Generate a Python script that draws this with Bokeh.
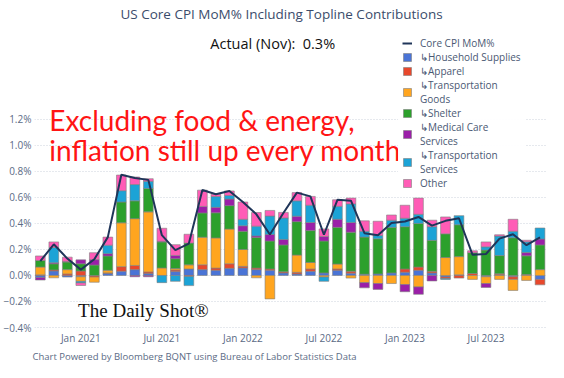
import numpy as np
from bokeh.plotting import figure
from bokeh.models import FixedTicker, Legend, LegendItem, Label, Title, Range1d, ColumnDataSource
from bokeh.embed import file_html
from bokeh.resources import INLINE

months = ["2020-10", "2020-11", "2020-12",
          "2021-01", "2021-02", "2021-03", "2021-04", "2021-05", "2021-06",
          "2021-07", "2021-08", "2021-09", "2021-10", "2021-11", "2021-12",
          "2022-01", "2022-02", "2022-03", "2022-04", "2022-05", "2022-06",
          "2022-07", "2022-08", "2022-09", "2022-10", "2022-11", "2022-12",
          "2023-01", "2023-02", "2023-03", "2023-04", "2023-05", "2023-06",
          "2023-07", "2023-08", "2023-09", "2023-10", "2023-11"]

household = [-0.015, 0.035, -0.012, -0.01, 0.0, 0.015, 0.033, 0.045, 0.015, 0.0, 0.03, 0.05,
             0.045, 0.04, 0.055, 0.058, 0.045, 0.04, 0.02, 0.012, 0.032, 0.02, 0.04, 0.018,
             0.01, 0.012, 0.02, 0.025, 0.04, 0.02, -0.012, 0.005, 0.0, -0.01, 0.005, -0.01, 0.0, -0.03]
apparel = [0.005, 0.008, 0.012, 0.035, -0.012, 0.005, 0.035, 0.032, 0.012, 0.0, 0.012, -0.008,
           0.037, 0.017, 0.035, 0.012, 0.012, 0.01, 0.008, 0.012, 0.018, 0.0, 0.01, 0.015,
           0.0, 0.0, 0.0, 0.025, 0.025, 0.012, -0.012, -0.02, 0.015, 0.0, 0.008, -0.02, 0.008, -0.042]
transport_goods = [0.06, -0.018, 0.033, -0.035, -0.04, 0.02, 0.337, 0.36, 0.462, 0.058, 0.012, 0.032,
                   0.212, 0.232, 0.267, 0.13, -0.018, -0.18, 0.0, 0.133, 0.05, -0.012, 0.038, -0.02,
                   -0.055, -0.062, -0.062, -0.07, -0.088, 0.0, 0.138, 0.14, -0.03, -0.052, -0.03, -0.085, -0.038, 0.045]
shelter = [0.05, 0.047, 0.058, 0.055, 0.08, 0.11, 0.16, 0.137, 0.18, 0.2, 0.075, 0.167,
           0.187, 0.193, 0.18, 0.14, 0.235, 0.215, 0.207, 0.257, 0.245, 0.245, 0.282, 0.3,
           0.285, 0.27, 0.35, 0.325, 0.335, 0.238, 0.182, 0.245, 0.16, 0.195, 0.14, 0.29, 0.143, 0.19]
medical = [-0.02, 0.008, 0.005, 0.03, 0.042, 0.018, 0.0, -0.01, -0.01, 0.005, 0.025, 0.0,
           0.05, 0.042, 0.05, 0.042, 0.012, 0.05, 0.042, 0.042, 0.062, 0.035, 0.062, 0.075,
           -0.04, -0.045, 0.0, -0.055, -0.057, -0.042, 0.0, 0.0, 0.0, -0.03, 0.0, 0.0, 0.025, 0.045]
transport_services = [0.0, 0.118, 0.0, -0.012, 0.0, 0.065, 0.087, 0.125, 0.055, -0.055, -0.045, -0.07,
                      0.0, 0.083, 0.028, 0.05, 0.075, 0.142, 0.165, 0.118, 0.133, -0.033, 0.1, 0.142,
                      0.045, 0.025, 0.055, 0.065, 0.07, 0.105, -0.006, 0.07, 0.0, 0.025, 0.15, 0.05, 0.083, 0.085]
other = [0.035, 0.042, 0.033, -0.02, 0.053, 0.062, 0.12, 0.058, 0.02, 0.1, 0.083, 0.068,
         0.125, 0.018, 0.035, 0.133, 0.105, 0.043, 0.043, 0.063, 0.068, 0.058, 0.05, 0.045,
         0.08, 0.11, 0.04, 0.1, 0.125, 0.05, 0.13, 0.0, 0.015, 0.038, 0.01, 0.092, 0.012, 0.0]
core_cpi = [0.11, 0.24, 0.13, 0.045, 0.125, 0.295, 0.775, 0.75, 0.735, 0.31, 0.195, 0.245,
            0.657, 0.625, 0.65, 0.565, 0.47, 0.315, 0.48, 0.637, 0.608, 0.313, 0.582, 0.575,
            0.325, 0.31, 0.403, 0.415, 0.45, 0.383, 0.42, 0.44, 0.16, 0.165, 0.283, 0.317, 0.233, 0.293]

series_names = ["\u21b3Household Supplies", "\u21b3Apparel", "\u21b3Transportation\nGoods",
                "\u21b3Shelter", "\u21b3Medical Care\nServices", "\u21b3Transportation\nServices", "Other"]
series_colors = ["#4a74d6", "#e8482c", "#ffa51f", "#2ca02c", "#9b1fa8", "#1ca3d6", "#ff5cb6"]
series_values = [household, apparel, transport_goods, shelter, medical, transport_services, other]

tick_months = ["2021-01", "2021-07", "2022-01", "2022-07", "2023-01", "2023-07"]
tick_labels = ["Jan 2021", "Jul 2021", "Jan 2022", "Jul 2022", "Jan 2023", "Jul 2023"]
y_ticks = [-0.4, -0.2, 0.0, 0.2, 0.4, 0.6, 0.8, 1.0, 1.2]
y_tick_labels = ["\u22120.4%", "\u22120.2%", "0.0%", "0.2%", "0.4%", "0.6%", "0.8%", "1.0%", "1.2%"]

FONT = "Open Sans"
n = len(months)
x = np.arange(n)

p = figure(width=548, height=362, output_backend="svg", toolbar_location=None, title=None,
           x_range=Range1d(-0.43, n - 1 + 0.48), y_range=Range1d(-0.423, 2.114),
           min_border_left=30, min_border_right=2, min_border_top=0, min_border_bottom=0)
p.outline_line_color = None
p.background_fill_color = "white"
p.border_fill_color = "white"

# axes
p.xaxis.ticker = FixedTicker(ticks=[months.index(m) for m in tick_months])
p.xaxis.major_label_overrides = {months.index(m): l for m, l in zip(tick_months, tick_labels)}
p.yaxis.ticker = FixedTicker(ticks=y_ticks)
p.yaxis.major_label_overrides = {t: l for t, l in zip(y_ticks, y_tick_labels)}
for ax in (p.xaxis[0], p.yaxis[0]):
    ax.axis_line_color = None
    ax.major_tick_line_color = None
    ax.minor_tick_line_color = None
    ax.major_tick_out = 0
    ax.major_tick_in = 0
    ax.minor_tick_out = 0
    ax.major_label_text_font = FONT
    ax.major_label_text_font_size = "10px"
    ax.major_label_text_color = "#5b6b85"
p.xaxis.major_label_standoff = 0
p.yaxis.major_label_standoff = 3
p.xgrid.grid_line_color = None
p.ygrid.grid_line_color = "#cdd3dd"
p.ygrid.grid_line_dash = "1 2"
p.ygrid.grid_line_width = 1

# stacked bars (positives up, negatives down)
pos = np.zeros(n)
neg = np.zeros(n)
bar_renderers = []
for name, vals, color in zip(series_names, series_values, series_colors):
    v = np.array(vals, dtype=float)
    bottom = np.where(v >= 0, pos, neg)
    top = bottom + v
    pos = np.where(v >= 0, pos + v, pos)
    neg = np.where(v < 0, neg + v, neg)
    keep = v != 0
    src = ColumnDataSource(dict(x=x[keep], bottom=bottom[keep], top=top[keep]))
    r = p.vbar(x="x", bottom="bottom", top="top", width=0.72, source=src,
               fill_color=color, line_color="#808080", line_width=0.8, line_alpha=0.75)
    bar_renderers.append((name, r))

line_r = p.line(x, core_cpi, line_color="#1f3559", line_width=2)

items = [LegendItem(label="Core CPI MoM%", renderers=[line_r])]
items += [LegendItem(label=name, renderers=[r]) for name, r in bar_renderers]
legend = Legend(items=items, location=(364, 136), orientation="vertical",
                label_text_font=FONT, label_text_font_size="10px", label_text_color="#4a5873",
                glyph_width=10, glyph_height=10, label_height=10, spacing=0, padding=4, margin=0,
                label_standoff=8, border_line_alpha=0, background_fill_alpha=0.95)
p.add_layout(legend)

# texts
p.add_layout(Label(x=17.86, y=2.007, text="US Core CPI MoM% Including Topline Contributions",
                   text_align="center", text_baseline="middle", text_font=FONT,
                   text_font_size="13.5px", text_color="#3b4c6b"))
p.add_layout(Label(x=17.21, y=1.787, text="Actual (Nov):\u00a0 0.3%",
                   text_align="center", text_baseline="middle", text_font=FONT,
                   text_font_size="14.5px", text_color="#111111"))
p.add_layout(Label(x=0.67, y=1.196, text="Excluding food & energy,",
                   text_align="left", text_baseline="middle", text_font="Lato",
                   text_font_size="28px", text_color="#ff1414"))
p.add_layout(Label(x=0.67, y=0.962, text="inflation still up every month",
                   text_align="left", text_baseline="middle", text_font="Lato",
                   text_font_size="28px", text_color="#ff1414"))
p.add_layout(Label(x=2.8, y=-0.273, text="The Daily Shot\u00ae",
                   text_align="left", text_baseline="middle", text_font="Liberation Serif",
                   text_font_size="19px", text_color="#111111"))

p.add_layout(Title(text="Chart Powered by Bloomberg BQNT using Bureau of Labor Statistics Data",
                   text_font=FONT, text_font_size="9.5px", text_font_style="normal",
                   text_color="#5b6b85", standoff=0, offset=-2, align="left"), "below")

open("out.html", "w").write(file_html(p, INLINE))
